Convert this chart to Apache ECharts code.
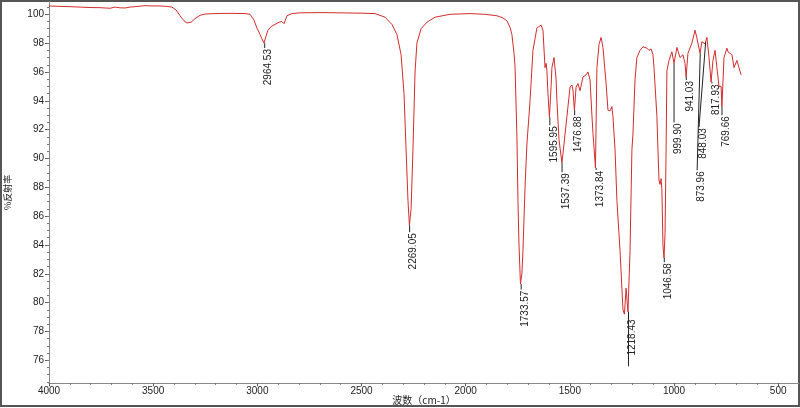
<!DOCTYPE html>
<html>
<head>
<meta charset="utf-8">
<script src="https://cdn.jsdelivr.net/npm/echarts@6/dist/echarts.min.js"></script>
<style>
  html, body { margin: 0; padding: 0; background: #fff; }
  #chart { width: 800px; height: 408px; }
</style>
</head>
<body>
<div id="chart"></div>
<script>
// 光谱数据（波数 cm-1 / %反射率）
var wavenumbers = [
  4000, 3947, 3899, 3851, 3803, 3755, 3707, 3683, 3659, 3635, 3611, 3573, 3539, 3506, 3467, 3434, 3410,
  3390, 3371, 3352, 3338, 3318, 3299, 3275, 3251, 3203, 3131, 3059, 3035, 3016, 3002, 2987, 2978, 2968,
  2958, 2949, 2934, 2915, 2896, 2882, 2872, 2858, 2834, 2795, 2699, 2603, 2507, 2435, 2387, 2354, 2330,
  2310, 2296, 2286, 2277, 2270, 2262, 2258, 2253, 2243, 2234, 2214, 2186, 2147, 2075, 1979, 1907, 1850,
  1821, 1802, 1787, 1778, 1768, 1763, 1754, 1749, 1744, 1737, 1730, 1725, 1715, 1706, 1691, 1677, 1658,
  1638, 1629, 1619, 1614, 1610, 1605, 1598, 1590, 1586, 1576, 1566, 1562, 1552, 1538, 1528, 1514, 1499,
  1490, 1485, 1478, 1470, 1461, 1451, 1437, 1422, 1413, 1403, 1394, 1389, 1377, 1370, 1360, 1350, 1341,
  1326, 1317, 1307, 1298, 1293, 1283, 1274, 1259, 1245, 1238, 1230, 1221, 1211, 1202, 1197, 1187, 1178,
  1163, 1149, 1130, 1120, 1110, 1101, 1096, 1082, 1077, 1072, 1067, 1062, 1058, 1053, 1048, 1043, 1038,
  1034, 1024, 1010, 1000, 986, 971, 957, 947, 942, 933, 914, 899, 890, 875, 866, 861, 851, 842, 832,
  822, 818, 813, 803, 794, 784, 774, 770, 760, 746, 741, 722, 712, 698, 693, 678
];
var reflectance = [
  100.58, 100.55, 100.53, 100.5, 100.47, 100.46, 100.42, 100.5, 100.45, 100.44, 100.5, 100.55, 100.6, 100.58, 100.58, 100.55, 100.5,
  100.3, 99.9, 99.55, 99.4, 99.45, 99.7, 99.93, 100.02, 100.05, 100.07, 100.05, 100.0, 99.6, 99.05, 98.6, 98.3, 98.0,
  98.5, 98.9, 99.15, 99.3, 99.45, 99.5, 99.35, 99.9, 100.05, 100.1, 100.12, 100.1, 100.08, 100.05, 99.8, 99.3, 98.6,
  97.2, 94.5, 90.6, 87.1, 85.35, 86.5, 88.3, 90.6, 96.0, 98.0, 99.0, 99.45, 99.8, 100.0, 100.05, 100.0, 99.9,
  99.75, 99.55, 99.1, 98.6, 97.3, 96.4, 91.5, 87.1, 84.0, 81.3, 82.0, 83.6, 88.0, 91.0, 94.0, 97.5, 99.05,
  99.25, 98.9, 96.3, 96.6, 96.1, 94.5, 92.85, 95.0, 96.3, 97.0, 95.5, 94.0, 91.3, 89.7, 91.0, 92.9, 94.95,
  95.1, 94.75, 93.35, 94.95, 95.2, 94.7, 95.65, 95.8, 96.0, 95.45, 93.0, 91.75, 89.35, 96.3, 97.9, 98.4, 97.7,
  95.2, 93.35, 93.3, 93.6, 92.9, 90.6, 87.1, 83.6, 79.5, 79.2, 81.0, 79.35, 83.6, 90.6, 91.7, 95.5, 97.0,
  97.5, 97.75, 97.65, 97.5, 97.6, 97.2, 96.3, 92.9, 90.6, 88.5, 88.2, 88.6, 87.8, 84.0, 83.1, 84.8, 90.6,
  96.1, 96.8, 97.4, 96.6, 97.7, 97.0, 97.2, 96.6, 95.65, 97.3, 98.0, 98.9, 98.35, 97.3, 98.1, 98.0, 97.95, 98.4, 97.0,
  95.3, 95.3, 96.8, 97.5, 96.3, 95.0, 95.0, 93.6, 97.0, 97.65, 97.4, 97.2, 96.3, 96.8, 96.7, 95.8
];

// 峰位标注
var peakLabels = ['2964.53', '2269.05', '1733.57', '1595.95', '1537.39', '1476.88', '1373.84', '1218.43',
  '1046.58', '999.90', '941.03', '873.96', '848.03', '817.93', '769.66'];
var peakTops = [98.0, 85.35, 81.3, 92.85, 89.7, 93.35, 89.35, 79.35, 83.1, 96.6, 95.65, 97.3, 98.07, 95.3, 93.6];
var leaderEndWn = [2964.53, 2269.05, 1733.57, 1595.95, 1537.39, 1476.88, 1373.84, 1218.43,
  1046.58, 999.90, 941.03, 889, 880, 817.93, 769.66];
var leaderEndT = [97.66, 84.88, 80.9, 92.3, 89.05, 93.0, 89.2, 75.58, 82.8, 92.5, 95.44, 89.18, 92.17, 95.2, 93.0];
var labelStartT = [97.66, 84.88, 80.9, 92.3, 89.05, 93.0, 89.2, 78.9, 82.8, 92.5, 95.44, 89.18, 92.17, 95.2, 93.0];

// 坐标轴刻度
var xTicks = [4000, 3500, 3000, 2500, 2000, 1500, 1000, 500];
var yTicks = [76, 78, 80, 82, 84, 86, 88, 90, 92, 94, 96, 98, 100];

var xMinor = [];
for (var v = 500; v <= 4000; v += 100) xMinor.push(v);
var yMinor = [];
for (var t = 74.5; t <= 100.5; t += 0.5) yMinor.push(t);

var spectrum = wavenumbers.map(function (w, i) { return [w, reflectance[i]]; });
var peaks = peakLabels.map(function (s, i) {
  return [parseFloat(s), peakTops[i], leaderEndWn[i], leaderEndT[i], labelStartT[i]];
});

var myChart = echarts.init(document.getElementById('chart'));
var axisFont = { fontFamily: 'Liberation Sans, DejaVu Sans, sans-serif', fontSize: 10, color: '#222' };
var plain = function (val) { return String(val); };

var option = {
  backgroundColor: '#fff',
  animation: false,
  grid: { left: 49, right: 1, top: 1.34, bottom: 24.7, containLabel: false, outerBoundsMode: 'none' },
  xAxis: [{
    type: 'value', min: 400, max: 4000, inverse: true,
    name: '波数（cm-1）', nameLocation: 'middle', nameGap: 12, nameMoveOverlap: false,
    nameTextStyle: { fontFamily: 'Noto Sans CJK SC', fontSize: 10, color: '#222' },
    axisLine: { lineStyle: { color: '#888' } },
    axisTick: { customValues: xTicks, length: 3, lineStyle: { color: '#555' } },
    axisLabel: Object.assign({ customValues: xTicks, margin: 3, formatter: plain }, axisFont),
    splitLine: { show: false }
  }, {
    type: 'value', min: 400, max: 4000, inverse: true, position: 'bottom', offset: 0,
    axisLine: { show: false },
    axisTick: { customValues: xMinor, length: 1.5, lineStyle: { color: '#666' } },
    axisLabel: { show: false },
    splitLine: { show: false }
  }],
  yAxis: [{
    type: 'value', min: 74.4, max: 100.9,
    name: '%反射率', nameLocation: 'middle', nameGap: 37, nameRotate: 90,
    nameTextStyle: { fontFamily: 'Noto Sans CJK SC', fontSize: 9, color: '#222' },
    axisLine: { show: true, lineStyle: { color: '#888' } },
    axisTick: { show: true, customValues: yTicks, length: 4, lineStyle: { color: '#555' } },
    axisLabel: Object.assign({ customValues: yTicks, margin: 5, formatter: plain }, axisFont),
    splitLine: { show: false }
  }, {
    type: 'value', min: 74.4, max: 100.9, position: 'left', offset: 0,
    axisLine: { show: false },
    axisTick: { show: true, customValues: yMinor, length: 2, lineStyle: { color: '#777' } },
    axisLabel: { show: false },
    splitLine: { show: false }
  }],
  graphic: [{
    type: 'rect', silent: true, z: -1,
    shape: { x: 1, y: 1, width: 798, height: 405 },
    style: { fill: null, stroke: '#555', lineWidth: 2 }
  }],
  series: [{
    type: 'line',
    data: spectrum,
    showSymbol: false,
    lineStyle: { color: '#d42c2c', width: 1 },
    z: 3
  }, {
    type: 'custom',
    data: peaks,
    encode: { x: [0, 2], y: [1, 3, 4] },
    z: 4,
    renderItem: function (params, api) {
      var top = api.coord([api.value(0), api.value(1)]);
      var end = api.coord([api.value(2), api.value(3)]);
      var txt = api.coord([api.value(2), api.value(4)]);
      return {
        type: 'group',
        children: [{
          type: 'line',
          shape: { x1: top[0], y1: top[1], x2: end[0], y2: end[1] },
          style: { stroke: '#222', lineWidth: 1 }
        }, {
          type: 'text',
          x: txt[0] + 4, y: txt[1] + 1,
          rotation: Math.PI / 2,
          style: {
            text: peakLabels[params.dataIndex],
            fontFamily: 'Liberation Sans, sans-serif', fontSize: 10, fill: '#222',
            align: 'right', verticalAlign: 'middle'
          }
        }]
      };
    }
  }]
};
myChart.setOption(option);
</script>
</body>
</html>
